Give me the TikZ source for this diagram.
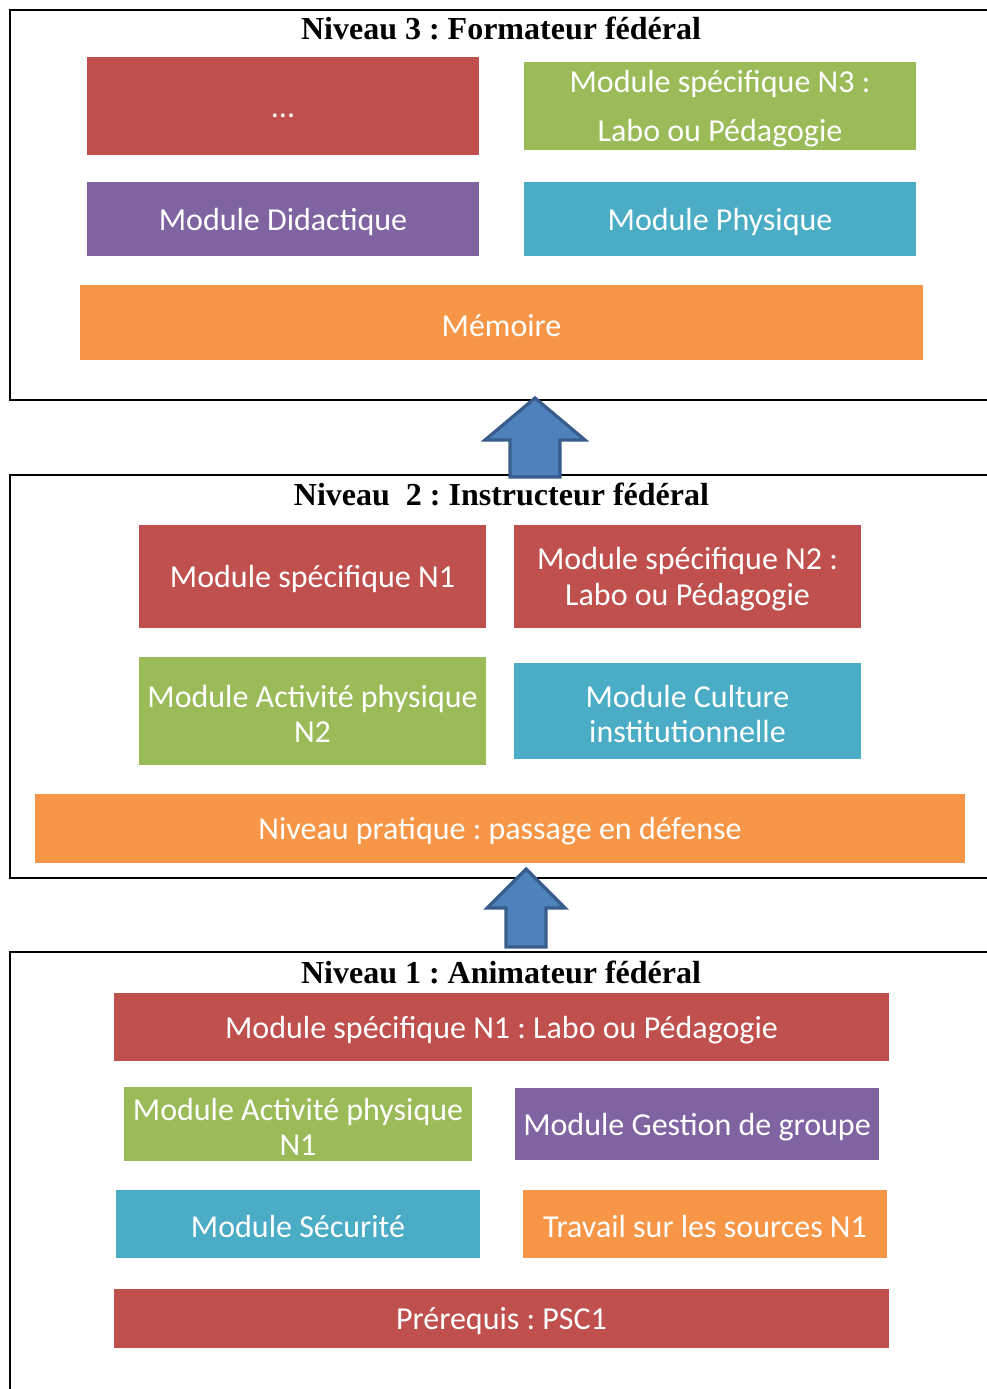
\documentclass[tikz,border=0pt]{standalone}
\usepackage{fontspec}
\setmainfont{Liberation Serif}
\newfontfamily\carl{Carlito}
\usetikzlibrary{fit}
\frenchspacing
\definecolor{ored}{HTML}{C0504D}
\definecolor{ogreen}{HTML}{9BBB59}
\definecolor{opurple}{HTML}{8064A2}
\definecolor{oblue}{HTML}{4BACC6}
\definecolor{oorange}{HTML}{F79646}
\definecolor{afill}{HTML}{4F81BD}
\definecolor{aline}{HTML}{385D8A}
\tikzset{
  box/.style={rectangle, inner sep=0pt, draw=none},
  boxtext/.style={inner sep=0pt, text=white, align=center, yshift=-2pt,
    font=\carl\fontsize{24}{26}\selectfont},
  frameline/.style={draw=black, line width=1.5pt},
  head/.style={font=\bfseries\fontsize{24}{28}\selectfont, inner sep=0pt},
  blockarrow/.style={fill=afill, draw=aline, line width=2.4pt, line join=miter},
}
\begin{document}
\begin{tikzpicture}[x=0.75pt,y=-0.75pt]
\useasboundingbox (0,0) rectangle (987,1389);
\begin{scope}
\clip (0,0) rectangle (987,1389);
% frames
\draw[frameline] (995,10) -- (10,10) -- (10,400) -- (995,400);
\draw[frameline] (995,475) -- (10,475) -- (10,878) -- (995,878);
\draw[frameline] (995,952) -- (10,952) -- (10,1400);
\end{scope}

% Level 3
\node[head] (h3) at (501,28) {Niveau 3 : Formateur fédéral};
\node[box, fill=ored, fit={(87,57)(479,155)}] (b31) {};
\node[boxtext, yshift=-5pt] (t31) at (b31.center) {...};
\node[box, fill=ogreen, fit={(524,62)(916,150)}] (b32) {};
\node[boxtext, font=\carl\fontsize{24}{36.75}\selectfont] (t32) at (b32.center) {Module spécifique N3 :\\Labo ou Pédagogie};
\node[box, fill=opurple, fit={(87,182)(479,256)}] (b33) {};
\node[boxtext] (t33) at (b33.center) {Module Didactique};
\node[box, fill=oblue, fit={(524,182)(916,256)}] (b34) {};
\node[boxtext] (t34) at (b34.center) {Module Physique};
\node[box, fill=oorange, fit={(80,285)(923,360)}] (b35) {};
\node[boxtext] (t35) at (b35.center) {Mémoire};

% Level 2
\node[head] (h2) at (501.5,494) {Niveau\ \ 2 : Instructeur fédéral};
\node[box, fill=ored, fit={(139,525)(486,628)}] (b21) {};
\node[boxtext] (t21) at (b21.center) {Module spécifique N1};
\node[box, fill=ored, fit={(514,525)(861,628)}] (b22) {};
\node[boxtext, font=\carl\fontsize{24}{27}\selectfont] (t22) at (b22.center) {Module spécifique N2 :\\Labo ou Pédagogie};
\node[box, fill=ogreen, fit={(139,657)(486,765)}] (b23) {};
\node[boxtext] (t23) at (b23.center) {Module Activité physique\\N2};
\node[box, fill=oblue, fit={(514,663)(861,759)}] (b24) {};
\node[boxtext] (t24) at (b24.center) {Module Culture\\institutionnelle};
\node[box, fill=oorange, fit={(35,794)(965,863)}] (b25) {};
\node[boxtext] (t25) at (b25.center) {Niveau pratique : passage en défense};

% Level 1
\node[head] (h1) at (501,972) {Niveau 1 : Animateur fédéral};
\node[box, fill=ored, fit={(114,993)(889,1061)}] (b11) {};
\node[boxtext] (t11) at (b11.center) {Module spécifique N1 : Labo ou Pédagogie};
\node[box, fill=ogreen, fit={(124,1087)(472,1161)}] (b12) {};
\node[boxtext] (t12) at (b12.center) {Module Activité physique\\N1};
\node[box, fill=opurple, fit={(515,1088)(879,1160)}] (b13) {};
\node[boxtext] (t13) at (b13.center) {Module Gestion de groupe};
\node[box, fill=oblue, fit={(116,1190)(480,1258)}] (b14) {};
\node[boxtext] (t14) at (b14.center) {Module Sécurité};
\node[box, fill=oorange, fit={(523,1190)(887,1258)}] (b15) {};
\node[boxtext] (t15) at (b15.center) {Travail sur les sources N1};
\node[box, fill=ored, fit={(114,1289)(889,1348)}] (b16) {};
\node[boxtext] (t16) at (b16.center) {Prérequis : PSC1};

% block arrows
\draw[blockarrow] (535,398) -- (585,440) -- (560,440) -- (560,477) -- (510,477) -- (510,440) -- (485,440) -- cycle;
\draw[blockarrow] (526,869) -- (565,908) -- (546,908) -- (546,947) -- (506,947) -- (506,908) -- (487,908) -- cycle;
\end{tikzpicture}
\end{document}
